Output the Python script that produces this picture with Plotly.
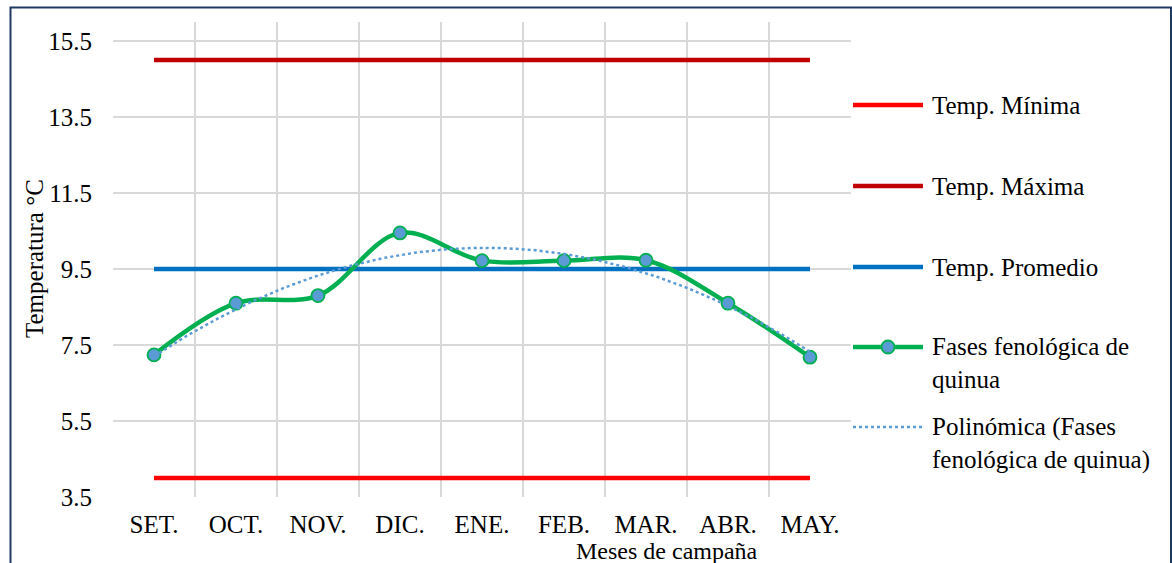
import numpy as np
import plotly.graph_objects as go

# Campaign months and temperature series (°C)
meses = ["SET.", "OCT.", "NOV.", "DIC.", "ENE.", "FEB.", "MAR.", "ABR.", "MAY."]
temp_minima = [4.0, 4.0, 4.0, 4.0, 4.0, 4.0, 4.0, 4.0, 4.0]
temp_maxima = [15.0, 15.0, 15.0, 15.0, 15.0, 15.0, 15.0, 15.0, 15.0]
temp_promedio = [9.5, 9.5, 9.5, 9.5, 9.5, 9.5, 9.5, 9.5, 9.5]
fases_quinua = [7.24, 8.6, 8.8, 10.45, 9.72, 9.72, 9.73, 8.6, 7.18]
y_ticks = [3.5, 5.5, 7.5, 9.5, 11.5, 13.5, 15.5]

FONT = "Liberation Serif"
W, H = 1172, 563
L, R, T, B = 113, 321, 22, 66
PW, PH = W - L - R, H - T - B

C_MIN = "#FF0000"
C_MAX = "#C00000"
C_PROM = "#0070C0"
C_FASES = "#00B050"
C_MARK = "#5B9BD5"
C_GRID = "#D9D9D9"

x = np.arange(1, len(meses) + 1)

# Second-order polynomial trend of the phenological series
coef = np.polyfit(x, fases_quinua, 2)
x_fit = np.linspace(1, len(meses), 200)
y_fit = np.polyval(coef, x_fit)


def px_x(p):
    return (p - L) / PW


def px_y(p):
    return (H - B - p) / PH


fig = go.Figure()
fig.add_trace(go.Scatter(x=x, y=temp_minima, mode="lines", name="Temp. Mínima",
                         line=dict(color=C_MIN, width=4.5)))
fig.add_trace(go.Scatter(x=x, y=temp_maxima, mode="lines", name="Temp. Máxima",
                         line=dict(color=C_MAX, width=4.5)))
fig.add_trace(go.Scatter(x=x, y=temp_promedio, mode="lines", name="Temp. Promedio",
                         line=dict(color=C_PROM, width=4.5)))
fig.add_trace(go.Scatter(x=x, y=fases_quinua, mode="lines+markers",
                         name="Fases fenológica de quinua",
                         line=dict(color=C_FASES, width=4.5, shape="spline", smoothing=1.0),
                         marker=dict(size=13, color=C_MARK, line=dict(color=C_FASES, width=1.8))))
fig.add_trace(go.Scatter(x=x_fit, y=y_fit, mode="lines",
                         name="Polinómica (Fases fenológica de quinua)",
                         line=dict(color=C_MARK, width=2.5, dash="dot")))

# Legend drawn at the right of the plot area
legend_items = [
    (105, "Temp. Mínima", dict(color=C_MIN, width=4.5), False),
    (186, "Temp. Máxima", dict(color=C_MAX, width=4.5), False),
    (267, "Temp. Promedio", dict(color=C_PROM, width=4.5), False),
    (347, "Fases fenológica de<br>quinua", dict(color=C_FASES, width=4.5), True),
    (427, "Polinómica (Fases<br>fenológica de quinua)", dict(color=C_MARK, width=2.5, dash="dot"), False),
]
shapes = []
annotations = []
for ypx, label, ln, marker in legend_items:
    shapes.append(dict(type="line", xref="paper", yref="paper",
                       x0=px_x(853), x1=px_x(923), y0=px_y(ypx), y1=px_y(ypx), line=ln))
    if marker:
        shapes.append(dict(type="circle", xref="paper", yref="paper",
                           x0=px_x(888 - 6.5), x1=px_x(888 + 6.5),
                           y0=px_y(ypx + 6.5), y1=px_y(ypx - 6.5),
                           fillcolor=C_MARK, line=dict(color=C_FASES, width=1.8)))
    lines = label.count("<br>") + 1
    annotations.append(dict(xref="paper", yref="paper", x=px_x(930),
                            y=px_y(ypx + (lines - 1) * 16), xanchor="left", yanchor="middle",
                            text=label, showarrow=False, align="left",
                            font=dict(family=FONT, size=25, color="black")))

# Axis titles
annotations.append(dict(xref="paper", yref="paper", x=px_x(667), y=px_y(551),
                        xanchor="center", yanchor="middle", text="Meses de campaña",
                        showarrow=False, font=dict(family=FONT, size=24, color="black")))
annotations.append(dict(xref="paper", yref="paper", x=px_x(34), y=px_y(259),
                        xanchor="center", yanchor="middle", text="Temperatura °C",
                        textangle=-90, showarrow=False,
                        font=dict(family=FONT, size=25, color="black")))

# Chart border
shapes.append(dict(type="rect", xref="paper", yref="paper", layer="above",
                   x0=px_x(10.5), x1=px_x(1171), y0=px_y(580), y1=px_y(7.5),
                   line=dict(color="#1F3864", width=2), fillcolor="rgba(0,0,0,0)"))

fig.update_layout(
    width=W, height=H,
    margin=dict(l=L, r=R, t=T, b=B, autoexpand=False),
    paper_bgcolor="white", plot_bgcolor="white",
    showlegend=False,
    font=dict(family=FONT, size=25, color="black"),
    shapes=shapes, annotations=annotations,
)
fig.update_xaxes(range=[0.5, len(meses) + 0.5], tickmode="array", tickvals=x, ticktext=meses,
                 showgrid=False, zeroline=False, showline=False, ticks="",
                 ticklabelstandoff=10,
                 minor=dict(tickmode="linear", tick0=0.5, dtick=1, showgrid=True,
                            gridcolor=C_GRID, gridwidth=1.5, ticks=""),
                 tickfont=dict(family=FONT, size=25, color="black"))
fig.update_yaxes(range=[3.5, 16], tickmode="array", tickvals=y_ticks,
                 ticktext=[f"{v:.1f}" for v in y_ticks],
                 showgrid=True, gridcolor=C_GRID, gridwidth=1.5, zeroline=False,
                 showline=False, ticks="", ticklabelstandoff=20,
                 tickfont=dict(family=FONT, size=25, color="black"))

fig.write_html("out.html")
